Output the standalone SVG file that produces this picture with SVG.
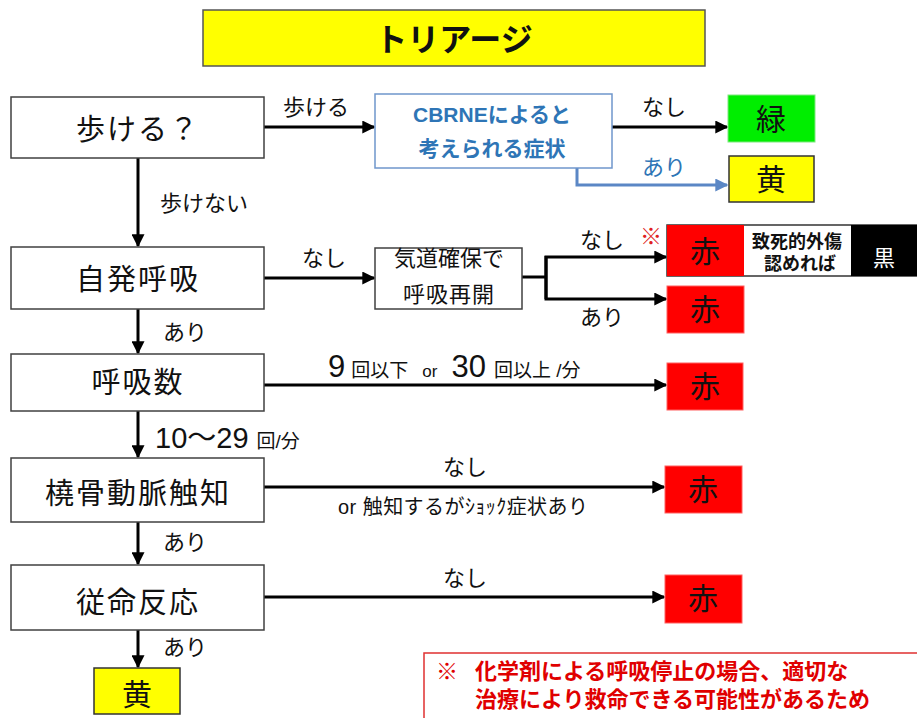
<svg xmlns="http://www.w3.org/2000/svg" width="917" height="718" viewBox="0 0 917 718">
<defs>
<style>
text{font-family:"Liberation Sans","Noto Sans CJK JP",sans-serif;fill:#111}
.node{fill:#fff;stroke:#404040;stroke-width:1.5}
.nt{font-size:29px;text-anchor:middle;letter-spacing:2px}
.lb{font-size:22px}
.red{fill:#ff0000;stroke:#ff6060;stroke-width:1}
.yel{fill:#ffff00;stroke:#333;stroke-width:1.5}
.ct{font-size:30px;text-anchor:middle}
.ln{fill:none;stroke:#000;stroke-width:3}
.bl{fill:none;stroke:#5b87c5;stroke-width:3}
</style>
<marker id="ah" viewBox="0 0 10 10" refX="9" refY="5" markerUnits="userSpaceOnUse" markerWidth="13" markerHeight="13" orient="auto"><path d="M0,0 L10,5 L0,10 z" fill="#000"/></marker>
<marker id="ahb" viewBox="0 0 10 10" refX="9" refY="5" markerUnits="userSpaceOnUse" markerWidth="13" markerHeight="13" orient="auto"><path d="M0,0 L10,5 L0,10 z" fill="#5b87c5"/></marker>
</defs>
<rect width="917" height="718" fill="#fff"/>

<g id="title">
<rect x="203" y="10" width="502" height="56" fill="#ffff00" stroke="#555" stroke-width="1.5"/>
<text x="454" y="51" font-size="32" font-weight="bold" text-anchor="middle">トリアージ</text>
</g>

<g id="connectors">
<line class="ln" x1="264" y1="127" x2="374" y2="127" marker-end="url(#ah)"/>
<line class="ln" x1="612" y1="127" x2="727" y2="127" marker-end="url(#ah)"/>
<polyline class="bl" points="577,168 577,185 727,185" marker-end="url(#ahb)"/>
<line class="ln" x1="138" y1="158" x2="138" y2="246" marker-end="url(#ah)"/>
<line class="ln" x1="264" y1="278" x2="374" y2="278" marker-end="url(#ah)"/>
<line class="ln" x1="522" y1="277" x2="546" y2="277"/>
<polyline class="ln" points="546,256 546,299 666,299" marker-end="url(#ah)"/>
<polyline class="ln" points="546,299 546,257 666,257" marker-end="url(#ah)"/>
<line class="ln" x1="138" y1="309" x2="138" y2="353" marker-end="url(#ah)"/>
<line class="ln" x1="264" y1="385" x2="666" y2="385" marker-end="url(#ah)"/>
<line class="ln" x1="138" y1="411" x2="138" y2="457" marker-end="url(#ah)"/>
<line class="ln" x1="264" y1="487" x2="664" y2="487" marker-end="url(#ah)"/>
<line class="ln" x1="138" y1="522" x2="138" y2="564" marker-end="url(#ah)"/>
<line class="ln" x1="264" y1="597" x2="664" y2="597" marker-end="url(#ah)"/>
<line class="ln" x1="138" y1="630" x2="138" y2="667" marker-end="url(#ah)"/>
<text class="lb" x="283" y="115">歩ける</text>
<text class="lb" x="642" y="115">なし</text>
<text class="lb" x="642" y="175" style="fill:#2e75b6">あり</text>
<text class="lb" x="160" y="211">歩けない</text>
<text class="lb" x="302" y="266">なし</text>
<text class="lb" x="580" y="248">なし</text>
<text class="lb" x="640" y="244" style="fill:#e02020">※</text>
<text class="lb" x="580" y="325">あり</text>
<text class="lb" x="163" y="340">あり</text>
<text x="328" y="377" font-size="31">9<tspan font-size="19" dx="6">回以下</tspan><tspan font-size="17" dx="14">or</tspan><tspan font-size="31" dx="14">30</tspan><tspan font-size="19" dx="8">回以上 /分</tspan></text>
<text x="155" y="448" font-size="29">10～29<tspan font-size="19" dx="8">回/分</tspan></text>
<text class="lb" x="443" y="475">なし</text>
<text x="338" y="514" font-size="20" textLength="250" lengthAdjust="spacing">or 触知するがｼｮｯｸ症状あり</text>
<text class="lb" x="163" y="550">あり</text>
<text class="lb" x="443" y="586">なし</text>
<text class="lb" x="163" y="655">あり</text>
</g>

<g id="n-walk">
<rect class="node" x="11" y="97" width="253" height="61"/>
<text class="nt" x="138" y="140">歩ける？</text>
</g>
<g id="n-cbrne">
<rect x="375" y="94" width="237" height="74" fill="#fff" stroke="#6f96cc" stroke-width="1.5"/>
<text x="492" y="122" font-size="21" font-weight="bold" text-anchor="middle" style="fill:#2e75b6">CBRNEによると</text>
<text x="492" y="156" font-size="21" font-weight="bold" text-anchor="middle" style="fill:#2e75b6">考えられる症状</text>
</g>
<g id="r-green">
<rect x="728" y="95" width="87" height="47" fill="#00ee00" stroke="#7fe87f" stroke-width="1"/>
<text class="ct" x="771" y="130">緑</text>
</g>
<g id="r-yellow1">
<rect class="yel" x="729" y="156" width="85" height="46"/>
<text class="ct" x="771" y="190">黄</text>
</g>
<g id="n-spont">
<rect class="node" x="11" y="247" width="253" height="62"/>
<text class="nt" x="138" y="290">自発呼吸</text>
</g>
<g id="n-airway">
<rect class="node" x="375" y="248" width="147" height="61"/>
<text x="449" y="266" font-size="22" text-anchor="middle">気道確保で</text>
<text x="449" y="302" font-size="22" text-anchor="middle" letter-spacing="1">呼吸再開</text>
</g>
<g id="r-red1">
<rect x="667" y="225" width="250" height="51" fill="#fff" stroke="#333" stroke-width="1.5"/>
<rect x="667" y="225" width="77" height="51" fill="#ff0000"/>
<rect x="851" y="225" width="66" height="51" fill="#000"/>
<text class="ct" x="705" y="262">赤</text>
<text x="797" y="248" font-size="18" font-weight="bold" text-anchor="middle">致死的外傷</text>
<text x="800" y="270" font-size="18" font-weight="bold" text-anchor="middle">認めれば</text>
<text x="884" y="266" font-size="22" text-anchor="middle" style="fill:#fff">黒</text>
</g>
<g id="r-red2">
<rect class="red" x="667" y="286" width="77" height="47"/>
<text class="ct" x="705" y="320">赤</text>
</g>
<g id="n-rate">
<rect class="node" x="11" y="354" width="253" height="57"/>
<text class="nt" x="138" y="393">呼吸数</text>
</g>
<g id="r-red3">
<rect class="red" x="667" y="363" width="76" height="47"/>
<text class="ct" x="705" y="397">赤</text>
</g>
<g id="n-pulse">
<rect class="node" x="11" y="458" width="253" height="64"/>
<text class="nt" x="138" y="504">橈骨動脈触知</text>
</g>
<g id="r-red4">
<rect class="red" x="665" y="466" width="77" height="47"/>
<text class="ct" x="703" y="500">赤</text>
</g>
<g id="n-obey">
<rect class="node" x="11" y="565" width="253" height="65"/>
<text class="nt" x="138" y="613">従命反応</text>
</g>
<g id="r-red5">
<rect class="red" x="665" y="575" width="77" height="48"/>
<text class="ct" x="703" y="609">赤</text>
</g>
<g id="r-yellow2">
<rect class="yel" x="94" y="668" width="86" height="46"/>
<text class="ct" x="137" y="705">黄</text>
</g>
<g id="note">
<rect x="424" y="653" width="510" height="80" fill="#fff" stroke="#e03030" stroke-width="1.5"/>
<text x="436" y="679" font-size="22" font-weight="bold" style="fill:#e00000">※</text>
<text x="475" y="679" font-size="22" font-weight="bold" style="fill:#e00000">化学剤による呼吸停止の場合、適切な</text>
<text x="475" y="707" font-size="22" font-weight="bold" style="fill:#e00000">治療により救命できる可能性があるため</text>
</g>
</svg>
